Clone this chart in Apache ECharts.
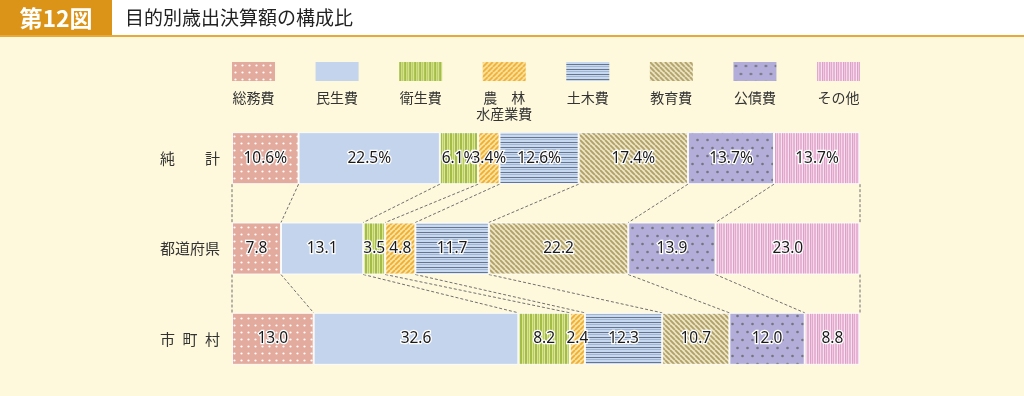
<!DOCTYPE html>
<html lang="ja">
<head>
<meta charset="utf-8">
<title>目的別歳出決算額の構成比</title>
<script src="https://cdn.jsdelivr.net/npm/echarts@6/dist/echarts.min.js"></script>
<style>
  html, body { margin: 0; padding: 0; background: #fef9dc; }
  #chart { width: 1024px; height: 396px; }
</style>
</head>
<body>
<div id="chart"></div>
<script>
// 区分と目的別の構成比（％）
const rows = ['純\u3000\u3000計', '都道府県', '市\u2002町\u2002村'];
const items = ['総務費', '民生費', '衛生費', '農\u3000林\n水産業費', '土木費', '教育費', '公債費', 'その他'];
const somu = [10.6, 7.8, 13.0];
const minsei = [22.5, 13.1, 32.6];
const eisei = [6.1, 3.5, 8.2];
const norin = [3.4, 4.8, 2.4];
const doboku = [12.6, 11.7, 12.3];
const kyoiku = [17.4, 22.2, 10.7];
const kosai = [13.7, 13.9, 12.0];
const sonota = [13.7, 23.0, 8.8];
const values = [somu, minsei, eisei, norin, doboku, kyoiku, kosai, sonota];

const FONT = '"Noto Sans CJK JP", "Noto Sans", sans-serif';
const BAR_W = 52;
const GRID_L = 232;
const GRID_R = 164;

// 模様タイル
const makeTile = (w, h, draw) => {
  const c = document.createElement('canvas');
  c.width = w;
  c.height = h;
  draw(c.getContext('2d'), w, h);
  return { image: c, repeat: 'repeat' };
};

const dots = (bg, fg, w, h, pts, r) => makeTile(w, h, (ctx) => {
  ctx.fillStyle = bg;
  ctx.fillRect(0, 0, w, h);
  ctx.fillStyle = fg;
  pts.forEach(([x, y]) => {
    ctx.beginPath();
    ctx.arc(x, y, r, 0, Math.PI * 2);
    ctx.fill();
  });
});

const stripes = (list, vertical) => {
  const total = list.reduce((s, d) => s + d[1], 0);
  return makeTile(vertical ? total : 4, vertical ? 4 : total, (ctx) => {
    let p = 0;
    list.forEach(([col, n]) => {
      ctx.fillStyle = col;
      if (vertical) ctx.fillRect(p, 0, n, 4);
      else ctx.fillRect(0, p, 4, n);
      p += n;
    });
  });
};

const diagonal = (bg, fg, w, lw, slash) => makeTile(w, w, (ctx) => {
  ctx.fillStyle = bg;
  ctx.fillRect(0, 0, w, w);
  ctx.strokeStyle = fg;
  ctx.lineWidth = lw;
  ctx.beginPath();
  for (let k = -1; k <= 1; k++) {
    if (slash) {
      ctx.moveTo(k * w, w);
      ctx.lineTo(k * w + w, 0);
    } else {
      ctx.moveTo(k * w, 0);
      ctx.lineTo(k * w + w, w);
    }
  }
  ctx.stroke();
});

const fills = [
  dots('#e2ab9e', '#ffffff', 7, 7, [[3.5, 3.5]], 1.1),
  '#c3d4ec',
  stripes([['#a3bd47', 2], ['#d8e396', 1], ['#b7cc5c', 1], ['#dbe69c', 1]], true),
  diagonal('#fce3a0', '#efae33', 5, 1.8, true),
  stripes([['#c7d9f0', 2], ['#66758c', 1], ['#c7d9f0', 1], ['#a3b6cf', 1]], false),
  diagonal('#ece5c6', '#b1a166', 5, 1.9, false),
  dots('#b3aed9', '#76747f', 10, 16, [[2.5, 4], [7.5, 12]], 1.3),
  stripes([['#e2a8ce', 1], ['#f4d6e8', 1], ['#e6b3d4', 2], ['#f7e1ee', 1], ['#dda0c8', 1], ['#f0c9e0', 1]], true),
];

// 段と段を結ぶ破線
const links = [];
for (let r = 0; r < rows.length - 1; r++) {
  let a = 0;
  let b = 0;
  links.push([0, 0, r]);
  values.forEach((s) => {
    a = Math.round((a + s[r]) * 10) / 10;
    b = Math.round((b + s[r + 1]) * 10) / 10;
    links.push([a, b, r]);
  });
}

const barSeries = values.map((data, i) => ({
  name: items[i],
  type: 'bar',
  stack: 'total',
  barWidth: BAR_W,
  data,
  itemStyle: {
    color: fills[i],
    borderColor: 'rgba(255,255,255,0.85)',
    borderWidth: 1,
  },
  label: {
    show: true,
    position: 'inside',
    formatter: (p) => (p.dataIndex === 0 ? p.value.toFixed(1) + '%' : p.value.toFixed(1)),
    color: '#1a1a1a',
    fontSize: 15.5,
    fontFamily: '"Noto Sans", sans-serif',
    textBorderColor: '#fff',
    textBorderWidth: 2.5,
  },
  emphasis: { disabled: true },
  z: 2,
}));

const linkSeries = {
  type: 'custom',
  silent: true,
  z: 1,
  data: links,
  encode: { x: [0, 1], y: 2 },
  renderItem: (params, api) => {
    const r = api.value(2);
    const p1 = api.coord([api.value(0), r]);
    const p2 = api.coord([api.value(1), r + 1]);
    return {
      type: 'line',
      shape: { x1: p1[0], y1: p1[1] + BAR_W / 2, x2: p2[0], y2: p2[1] - BAR_W / 2 },
      style: { stroke: '#6f6f6f', lineWidth: 1, lineDash: [3, 2] },
    };
  },
};

// 凡例（模様の下に名称）
const legendStep = (1024 - GRID_L - GRID_R - 43) / (items.length - 1);
const legendGraphics = [];
items.forEach((name, i) => {
  const x = GRID_L + i * legendStep;
  legendGraphics.push({
    type: 'rect',
    left: x,
    top: 62,
    shape: { width: 43, height: 19 },
    style: { fill: fills[i] },
    silent: true,
  });
  legendGraphics.push({
    type: 'text',
    x: x + 21.5,
    y: 90,
    style: {
      text: name,
      fill: '#333',
      font: '14px ' + FONT,
      align: 'center',
      verticalAlign: 'top',
      lineHeight: 16,
    },
    silent: true,
  });
});

const headerGraphics = [
  { type: 'rect', left: 0, top: 0, shape: { width: 1024, height: 36 }, style: { fill: '#ffffff' }, silent: true },
  { type: 'rect', left: 0, top: 0, shape: { width: 112, height: 36 }, style: { fill: '#dc9418' }, silent: true },
  { type: 'rect', left: 0, top: 35, shape: { width: 1024, height: 2 }, style: { fill: '#e6a93a' }, silent: true },
  {
    type: 'text', x: 56, y: 18,
    style: { text: '第12図', fill: '#fff', font: 'bold 23px ' + FONT, align: 'center', verticalAlign: 'middle' },
    silent: true,
  },
  {
    type: 'text', x: 125, y: 18,
    style: { text: '目的別歳出決算額の構成比', fill: '#222', font: '19px ' + FONT, align: 'left', verticalAlign: 'middle' },
    silent: true,
  },
];

const chart = echarts.init(document.getElementById('chart'));
chart.setOption({
  backgroundColor: '#fef9dc',
  animation: false,
  grid: { left: GRID_L, right: GRID_R, top: 113, bottom: 12, containLabel: false },
  xAxis: { type: 'value', min: 0, max: 100, show: false },
  yAxis: {
    type: 'category',
    data: rows,
    inverse: true,
    axisLine: { show: false },
    axisTick: { show: false },
    axisLabel: { color: '#333', fontSize: 15, fontFamily: FONT, margin: 12 },
  },
  graphic: headerGraphics.concat(legendGraphics),
  series: [linkSeries].concat(barSeries),
});
window.addEventListener('resize', () => chart.resize());
</script>
</body>
</html>
